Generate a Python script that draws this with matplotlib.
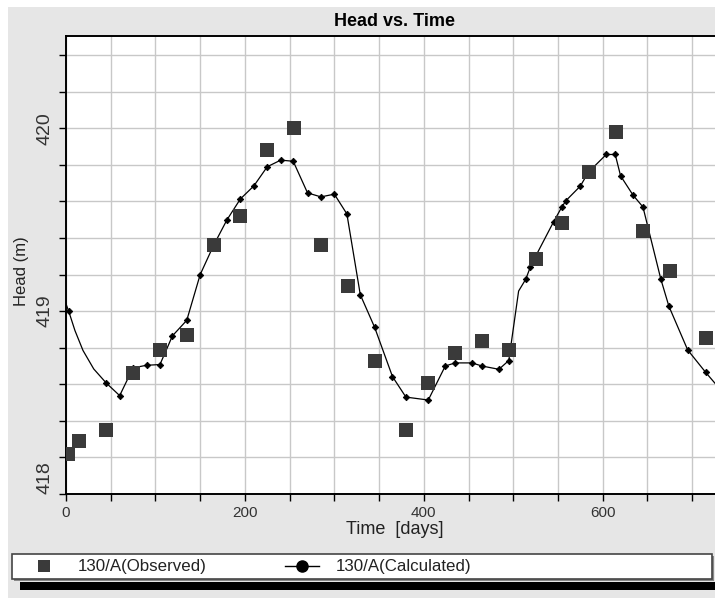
import matplotlib
matplotlib.use("Agg")
import matplotlib.pyplot as plt
from matplotlib.lines import Line2D
from matplotlib.patches import Rectangle
import numpy as np

plt.rcParams['font.family'] = ['Liberation Sans', 'DejaVu Sans']

# ---- data ----
obs_days = [2, 15, 45, 75, 105, 135, 165, 195, 225, 255, 285, 315, 345, 380,
            405, 435, 465, 495, 525, 555, 585, 615, 645, 675, 715]
obs_head = [418.22, 418.29, 418.35, 418.66, 418.785, 418.87, 419.36, 419.52,
            419.88, 420.0, 419.36, 419.135, 418.73, 418.35, 418.607, 418.772,
            418.836, 418.785, 419.287, 419.48, 419.76, 419.98, 419.44, 419.22,
            418.854]

calc_days = [3, 45, 60, 75, 90, 105, 119, 135, 150, 165, 180, 195, 210, 225,
             240, 254, 270, 285, 300, 314, 329, 345, 365, 380, 405, 424, 435,
             454, 465, 484, 495, 514, 519, 525, 545, 554, 559, 575, 584, 604,
             614, 620, 634, 645, 665, 674, 695, 715]
calc_head = [419.0, 418.607, 418.538, 418.69, 418.704, 418.708, 418.865,
             418.95, 419.2, 419.36, 419.5, 419.614, 419.685, 419.79, 419.826,
             419.82, 419.647, 419.625, 419.64, 419.532, 419.09, 418.912,
             418.642, 418.53, 418.514, 418.7, 418.717, 418.717, 418.7, 418.682,
             418.73, 419.175, 419.24, 419.3, 419.488, 419.567, 419.605, 419.684,
             419.76, 419.857, 419.857, 419.74, 419.634, 419.57, 419.175,
             419.027, 418.788, 418.666]

# calculated curve points between markers (line only)
line_extra_days = [0, 10, 19, 31, 506, 730]
line_extra_head = [419.04, 418.894, 418.785, 418.684, 419.11, 418.58]

x_ticks = [0, 200, 400, 600]
y_ticks = [418, 419, 420]

title = "Head vs. Time"
xlabel = "Time  [days]"
ylabel = "Head (m)"
obs_label = "130/A(Observed)"
calc_label = "130/A(Calculated)"

# ---- figure ----
W, H = 715, 598
fig = plt.figure(figsize=(W / 100, H / 100), dpi=100)
fig.patch.set_facecolor('white')

# gray panel background (white margin at top/left)
fig.add_artist(Rectangle((8 / W, 0), 1, 1 - 7 / H, transform=fig.transFigure,
                         facecolor='#e6e6e6', edgecolor='none', zorder=-10))

ax_left, ax_right, ax_top, ax_bottom = 66, 715, 36, 494
ax = fig.add_axes([ax_left / W, 1 - ax_bottom / H, (ax_right - ax_left) / W,
                   (ax_bottom - ax_top) / H])
ax.set_facecolor('white')

xt = np.arange(0, 751, 50)
ax.set_xticks(xt)
ax.set_xticklabels([str(int(v)) if v in x_ticks else '' for v in xt])
yt = np.round(np.arange(418, 420.6, 0.2), 1)
ax.set_yticks(yt)
ax.set_yticklabels([str(int(round(v))) if any(abs(v - t) < 1e-6 for t in y_ticks) else ''
                    for v in yt])

xmax = (ax_right - ax_left) / 0.8945
ax.set_xlim(0, xmax)
ax.set_ylim(418, 420.505)

ax.grid(True, color='#c8c8c8', linewidth=1.0)
ax.set_axisbelow(True)

ax.tick_params(axis='x', length=5, width=1, labelsize=11, pad=3.5,
               labelcolor='#333333')
ax.tick_params(axis='y', length=5, width=1, labelsize=14, pad=4,
               labelcolor='#333333')
for lab in ax.get_yticklabels():
    lab.set_rotation(90)
    lab.set_va('center')
ax.get_yticklabels()[0].set_va('bottom')

for s in ['left', 'bottom', 'top']:
    ax.spines[s].set_linewidth(1.4)
    ax.spines[s].set_color('black')
ax.spines['right'].set_visible(False)

# calculated line (markers + line-only points), sorted by time
ld = np.array(list(calc_days) + line_extra_days)
lh = np.array(list(calc_head) + line_extra_head)
order = np.argsort(ld)
ax.plot(ld[order], lh[order], color='black', linewidth=0.9, zorder=3)
ax.plot(calc_days, calc_head, linestyle='none', marker='D', markersize=3.3,
        color='black', markeredgewidth=0.6, zorder=4)
ax.plot(obs_days, obs_head, linestyle='none', marker='s', markersize=10,
        color='#3a3a3a', markeredgewidth=0, zorder=5, clip_on=True)

ax.set_xlabel(xlabel, fontsize=13, color='#222222')
ax.xaxis.set_label_coords((395 - ax_left) / (ax_right - ax_left),
                          -(521 - ax_bottom) / (ax_bottom - ax_top))
ax.set_ylabel(ylabel, fontsize=12, color='#222222')
ax.yaxis.set_label_coords(-(ax_left - 29) / (ax_right - ax_left),
                          (ax_bottom - 271) / (ax_bottom - ax_top))

fig.text(395 / W, 1 - 22 / H, title, ha='center', va='center', fontsize=13,
         fontweight='bold', color='black')

# legend box and bar
fig.add_artist(Rectangle((14 / W, 1 - 581 / H), (714 - 14) / W, 25 / H,
                         transform=fig.transFigure, facecolor='#8a8a8a',
                         edgecolor='none', zorder=1))
fig.add_artist(Rectangle((12 / W, 1 - 579 / H), (712 - 12) / W, 25 / H,
                         transform=fig.transFigure, facecolor='white',
                         edgecolor='#444444', linewidth=1.2, zorder=2))
fig.add_artist(Rectangle((20 / W, 1 - 590 / H), (715 - 20) / W, 8 / H,
                         transform=fig.transFigure, facecolor='black',
                         edgecolor='none', zorder=2))

h_obs = Line2D([], [], linestyle='none', marker='s', markersize=8.5,
               color='#3a3a3a', markeredgewidth=0)
h_calc = Line2D([], [], linestyle='-', linewidth=1, marker='o', markersize=8,
                color='black')
leg = fig.legend([h_obs, h_calc], [obs_label, calc_label], ncol=2,
                 loc='center left', bbox_to_anchor=(27 / W, 1 - 567 / H),
                 frameon=False, fontsize=12.2, handlelength=2.0,
                 handletextpad=1.0, columnspacing=4.6, borderaxespad=0,
                 borderpad=0, numpoints=1)
leg.set_zorder(5)
for t in leg.get_texts():
    t.set_color('#222222')

fig.savefig('out.png', dpi=100, facecolor=fig.get_facecolor())
